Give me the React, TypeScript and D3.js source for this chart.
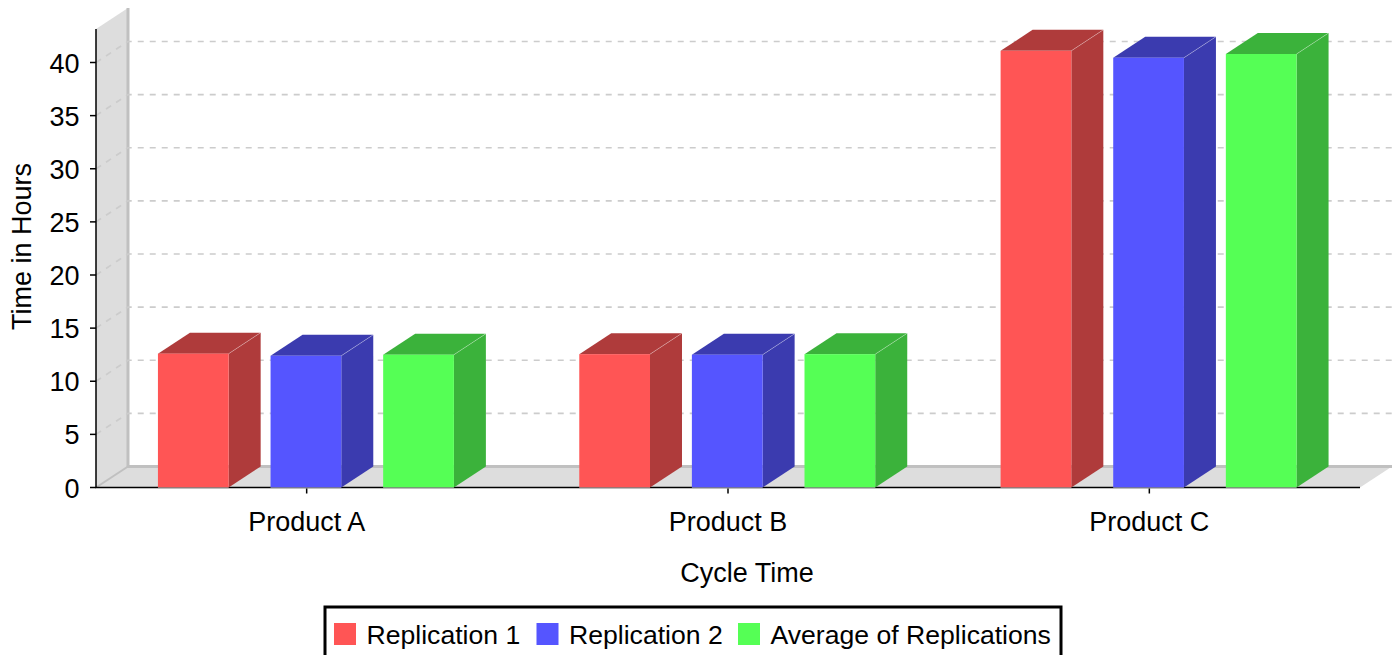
import * as React from 'react';
import * as d3 from 'd3';

const categories = ["Product A", "Product B", "Product C"];
const seriesNames = ["Replication 1", "Replication 2", "Average of Replications"];
const replication1 = [12.6, 12.55, 41.1];
const replication2 = [12.4, 12.5, 40.45];
const averages = [12.5, 12.55, 40.8];
const yTicks = [0, 5, 10, 15, 20, 25, 30, 35, 40];
const faceColours = ["#FF5555", "#5555FF", "#55FF55"];
const sideColours = ["#AF3B3B", "#3B3BAF", "#3BB23B"];

const WIDTH = 1400;
const HEIGHT = 655;
const DX = 32;
const DY = 21;
const FONT = "'Liberation Sans', Arial, sans-serif";
const FONT_SIZE = 27;

const x0 = d3.scaleBand<string>().domain(categories).range([96, 1360]);
const x1 = d3.scaleBand<string>().domain(seriesNames).range([0, x0.bandwidth() - 1.5]).paddingInner(0.372).paddingOuter(0.55);
const y = d3.scaleLinear().domain([0, 40]).range([487.5, 62.5]);
const yTop = y.invert(29);

function poly(pts: number[][]) {
    return d3.line()(pts as [number, number][]) + "Z";
}

export default function App() {
    const allSeries = [replication1, replication2, averages];
    const bottom = y(0);
    const right = x0.range()[1];
    const left = x0.range()[0];
    return (
        <svg width={WIDTH} height={HEIGHT} style={{position: "absolute", left: 0, top: 0, background: "#fff"}} fontFamily={FONT}>
            {/* side wall and floor */}
            <path d={poly([[left, y(yTop)], [left + DX, y(yTop) - DY], [left + DX, bottom - DY], [left, bottom]])} fill="#DDDDDD"/>
            <path d={poly([[left, bottom], [left + DX, bottom - DY], [right + DX, bottom - DY], [right, bottom]])} fill="#DDDDDD"/>
            <path d={`M${left + DX},${y(yTop) - DY}V${bottom - DY}H${right + DX}`} fill="none" stroke="#C0C0C0" strokeWidth={3}/>
            <path d={`M${left},${bottom}L${left + DX},${bottom - DY}`} stroke="#C0C0C0" strokeWidth={2}/>

            {yTicks.filter(t => t > 0).map(t => (
                <g key={t}>
                    <path d={`M${left},${y(t)}L${left + DX},${y(t) - DY}H${right + DX}`} fill="none" stroke="#CCCCCC" strokeWidth={1.7} strokeDasharray="6 6"/>
                </g>
            ))}

            {/* axes */}
            <path d={`M${left},${y(yTop)}V${bottom}H${right}`} fill="none" stroke="#000" strokeWidth={1.5}/>
            {yTicks.map(t => (
                <g key={t}>
                    <line x1={left - 6} x2={left} y1={y(t)} y2={y(t)} stroke="#000" strokeWidth={1.5}/>
                    <text x={left - 16.5} y={y(t) + 10} textAnchor="end" fontSize={FONT_SIZE} fill="#000">{t}</text>
                </g>
            ))}
            {categories.map(c => {
                const cx = x0(c)! + x0.bandwidth() / 2;
                return (
                    <g key={c}>
                        <line x1={cx} x2={cx} y1={bottom} y2={bottom + 6} stroke="#000" strokeWidth={1.5}/>
                        <text x={cx} y={531} textAnchor="middle" fontSize={FONT_SIZE} fill="#000">{c}</text>
                    </g>
                );
            })}

            {/* bars */}
            {categories.map((c, ci) => seriesNames.map((s, si) => {
                const bx = x0(c)! + x1(s)!;
                const bw = x1.bandwidth();
                const by = y(allSeries[si][ci]);
                return (
                    <g key={c + s}>
                        <path d={poly([[bx, by], [bx + DX, by - DY], [bx + bw + DX, by - DY], [bx + bw, by]])} fill={sideColours[si]}/>
                        <path d={poly([[bx + bw, by], [bx + bw + DX, by - DY], [bx + bw + DX, bottom - DY], [bx + bw, bottom]])} fill={sideColours[si]}/>
                        <path d={`M${bx + bw},${by}L${bx + bw + DX},${by - DY}`} stroke="#fff" strokeOpacity={0.3} strokeWidth={1}/>
                        <rect x={bx} y={by} width={bw} height={bottom - by} fill={faceColours[si]}/>
                        <line x1={bx} x2={bx + bw} y1={bottom + 0.5} y2={bottom + 0.5} stroke="#BBBBBB" strokeWidth={1}/>
                    </g>
                );
            }))}

            <text x={747} y={582} textAnchor="middle" fontSize={FONT_SIZE} fill="#000">Cycle Time</text>
            <text transform="translate(31,246.5) rotate(-90)" textAnchor="middle" fontSize={FONT_SIZE} fill="#000">Time in Hours</text>

            {/* legend */}
            <rect x={325} y={607} width={736} height={60} fill="#fff" stroke="#000" strokeWidth={3}/>
            {seriesNames.map((s, i) => {
                const lx = [334, 536.5, 738][i];
                return (
                    <g key={s}>
                        <rect x={lx} y={623} width={22} height={22} fill={faceColours[i]}/>
                        <text x={lx + 32.5} y={644} fontSize={26.6} fill="#000">{s}</text>
                    </g>
                );
            })}
        </svg>
    );
}
